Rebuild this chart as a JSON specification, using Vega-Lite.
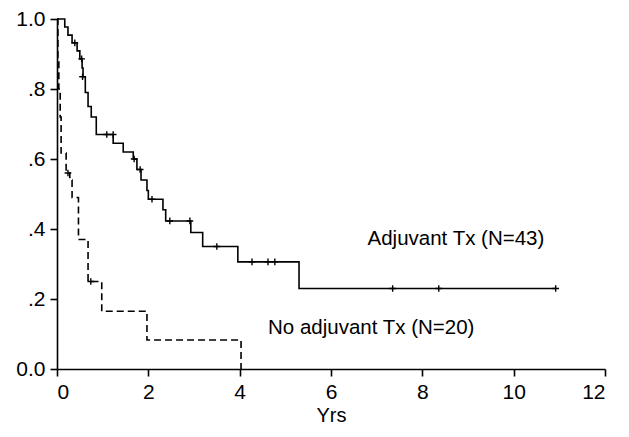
{
  "$schema": "https://vega.github.io/schema/vega-lite/v6.json",
  "autosize": "none",
  "width": 548,
  "height": 350,
  "padding": {"left": 57, "top": 19, "right": 24, "bottom": 68},
  "background": "white",
  "config": {
    "view": {"stroke": null},
    "font": "Liberation Sans",
    "axis": {"grid": false, "domainColor": "black", "tickColor": "black", "domainWidth": 1.6, "tickWidth": 1.6, "labelColor": "black", "titleColor": "black", "labelFontSize": 21, "titleFontSize": 20, "titleFontWeight": "normal", "tickSize": 7}
  },
  "datasets": {
    "curves": [
      {"group": "Adjuvant", "t": 0, "s": 1.0},
      {"group": "Adjuvant", "t": 0.17, "s": 0.977},
      {"group": "Adjuvant", "t": 0.24, "s": 0.954},
      {"group": "Adjuvant", "t": 0.33, "s": 0.932},
      {"group": "Adjuvant", "t": 0.44, "s": 0.909},
      {"group": "Adjuvant", "t": 0.5, "s": 0.886},
      {"group": "Adjuvant", "t": 0.55, "s": 0.86},
      {"group": "Adjuvant", "t": 0.57, "s": 0.835},
      {"group": "Adjuvant", "t": 0.62, "s": 0.79},
      {"group": "Adjuvant", "t": 0.68, "s": 0.75},
      {"group": "Adjuvant", "t": 0.75, "s": 0.72},
      {"group": "Adjuvant", "t": 0.86, "s": 0.67},
      {"group": "Adjuvant", "t": 1.23, "s": 0.645},
      {"group": "Adjuvant", "t": 1.45, "s": 0.62},
      {"group": "Adjuvant", "t": 1.67, "s": 0.6},
      {"group": "Adjuvant", "t": 1.75, "s": 0.57},
      {"group": "Adjuvant", "t": 1.84, "s": 0.54},
      {"group": "Adjuvant", "t": 1.97, "s": 0.51},
      {"group": "Adjuvant", "t": 2.0, "s": 0.485},
      {"group": "Adjuvant", "t": 2.32, "s": 0.455},
      {"group": "Adjuvant", "t": 2.38, "s": 0.423},
      {"group": "Adjuvant", "t": 2.93, "s": 0.39},
      {"group": "Adjuvant", "t": 3.19, "s": 0.35},
      {"group": "Adjuvant", "t": 3.96, "s": 0.306},
      {"group": "Adjuvant", "t": 5.3, "s": 0.23},
      {"group": "Adjuvant", "t": 10.92, "s": 0.23},
      {"group": "NoAdjuvant", "t": 0, "s": 1.0},
      {"group": "NoAdjuvant", "t": 0.02, "s": 0.89},
      {"group": "NoAdjuvant", "t": 0.04, "s": 0.8},
      {"group": "NoAdjuvant", "t": 0.07, "s": 0.72},
      {"group": "NoAdjuvant", "t": 0.09, "s": 0.617},
      {"group": "NoAdjuvant", "t": 0.2, "s": 0.56},
      {"group": "NoAdjuvant", "t": 0.28, "s": 0.54},
      {"group": "NoAdjuvant", "t": 0.33, "s": 0.49},
      {"group": "NoAdjuvant", "t": 0.47, "s": 0.37},
      {"group": "NoAdjuvant", "t": 0.68, "s": 0.25},
      {"group": "NoAdjuvant", "t": 0.98, "s": 0.165},
      {"group": "NoAdjuvant", "t": 1.97, "s": 0.083},
      {"group": "NoAdjuvant", "t": 4.03, "s": 0.0}
    ],
    "censors": [
      {"group": "Adjuvant", "t": 0.39, "s": 0.932},
      {"group": "Adjuvant", "t": 0.54, "s": 0.886},
      {"group": "Adjuvant", "t": 0.56, "s": 0.835},
      {"group": "Adjuvant", "t": 1.09, "s": 0.67},
      {"group": "Adjuvant", "t": 1.23, "s": 0.67},
      {"group": "Adjuvant", "t": 1.69, "s": 0.6},
      {"group": "Adjuvant", "t": 1.82, "s": 0.57},
      {"group": "Adjuvant", "t": 2.08, "s": 0.485},
      {"group": "Adjuvant", "t": 2.47, "s": 0.423},
      {"group": "Adjuvant", "t": 2.91, "s": 0.423},
      {"group": "Adjuvant", "t": 3.5, "s": 0.35},
      {"group": "Adjuvant", "t": 4.27, "s": 0.306},
      {"group": "Adjuvant", "t": 4.62, "s": 0.306},
      {"group": "Adjuvant", "t": 4.77, "s": 0.306},
      {"group": "Adjuvant", "t": 7.35, "s": 0.23},
      {"group": "Adjuvant", "t": 8.36, "s": 0.23},
      {"group": "Adjuvant", "t": 10.92, "s": 0.23},
      {"group": "NoAdjuvant", "t": 0.24, "s": 0.56},
      {"group": "NoAdjuvant", "t": 0.74, "s": 0.25}
    ],
    "labels": [
      {"label": "Adjuvant Tx (N=43)", "t": 6.8, "s": 0.371},
      {"label": "No adjuvant Tx (N=20)", "t": 4.62, "s": 0.117}
    ]
  },
  "layer": [
    {
      "data": {"name": "curves"},
      "mark": {"type": "line", "interpolate": "step-after", "color": "black", "strokeWidth": 1.6},
      "encoding": {
        "x": {"field": "t", "type": "quantitative", "scale": {"domain": [0, 12], "nice": false}, "axis": {"values": [0, 2, 4, 6, 8, 10, 12], "title": "Yrs", "labelPadding": 5, "titlePadding": 3}},
        "y": {"field": "s", "type": "quantitative", "scale": {"domain": [0, 1], "nice": false}, "axis": {"values": [0, 0.2, 0.4, 0.6, 0.8, 1], "title": null, "labelPadding": 5, "labelExpr": "datum.value == 0 ? '0.0' : datum.value == 1 ? '1.0' : '.' + round(datum.value * 10)"}},
        "detail": {"field": "group"},
        "strokeDash": {"field": "group", "type": "nominal", "scale": {"domain": ["Adjuvant", "NoAdjuvant"], "range": [[1, 0], [7, 4]]}, "legend": null}
      }
    },
    {
      "data": {"name": "censors"},
      "mark": {"type": "point", "shape": "M-1,0L1,0M0,-1L0,1", "filled": false, "color": "black", "strokeWidth": 1.4, "size": 45, "opacity": 1},
      "encoding": {
        "x": {"field": "t", "type": "quantitative"},
        "y": {"field": "s", "type": "quantitative"}
      }
    },
    {
      "data": {"name": "labels"},
      "mark": {"type": "text", "align": "left", "baseline": "middle", "fontSize": 20.5, "color": "black", "font": "Liberation Sans"},
      "encoding": {
        "x": {"field": "t", "type": "quantitative"},
        "y": {"field": "s", "type": "quantitative"},
        "text": {"field": "label"}
      }
    }
  ]
}
